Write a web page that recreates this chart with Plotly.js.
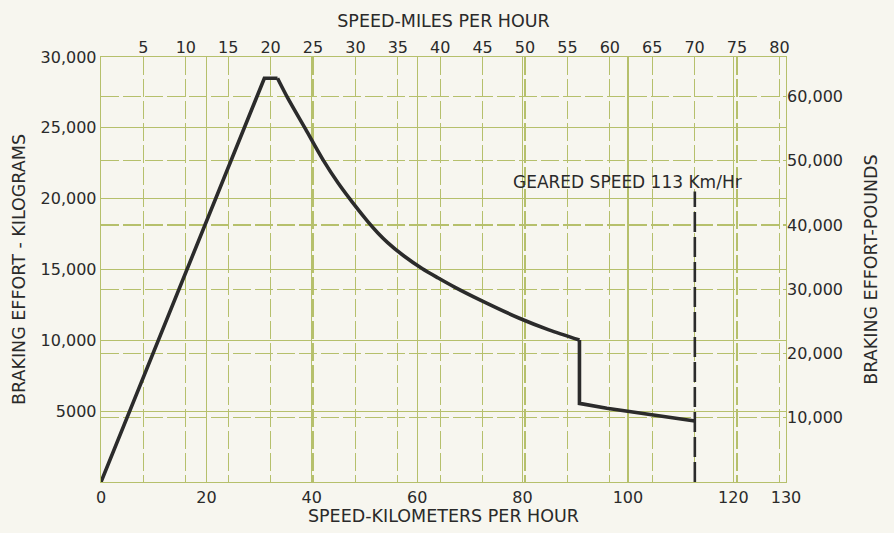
<!DOCTYPE html>
<html>
<head>
<meta charset="utf-8">
<script src="https://cdn.plot.ly/plotly-3.0.1.min.js"></script>
<style>
html,body{margin:0;padding:0;background:#f7f6ef;}
#chart{width:894px;height:533px;}
</style>
</head>
<body>
<div id="chart"></div>
<script>
// Braking effort curve (speed in km/h, effort in kg)
// Rising section and flat top
const riseKm = [0, 31.0, 33.5];
const riseKg = [0, 28500, 28500];
// Decaying section after the peak
const decayKm = [33.5, 35.4, 38.8, 42.2, 45.0, 47.8, 50.6, 52.5, 54.4, 57.5, 61.0, 64.0, 67.1, 72.0, 79.4, 85.0, 90.8];
const decayKg = [28500, 27130, 24920, 22700, 21100, 19700, 18400, 17600, 16900, 15950, 15050, 14400, 13760, 12840, 11560, 10740, 10020];
// Drop and low section up to geared speed
const lowKm = [90.8, 90.8, 96.0, 101.6, 107.0, 112.7];
const lowKg = [10020, 5550, 5200, 4880, 4580, 4300];

// Geared speed marker
const gearedKm = [112.7, 112.7];
const gearedKg = [0, 20500];
const gearedLabel = "GEARED SPEED 113 Km/Hr";

// Axis ticks
const kmTicks = [0, 20, 40, 60, 80, 100, 120, 130];
const kmTickText = ["0", "20", "40", "60", "80", "100", "120", "130"];
const mphTicks = [5, 10, 15, 20, 25, 30, 35, 40, 45, 50, 55, 60, 65, 70, 75, 80];
const kgTicks = [5000, 10000, 15000, 20000, 25000, 30000];
const kgTickText = ["5000", "10,000", "15,000", "20,000", "25,000", "30,000"];
const lbTicks = [10000, 20000, 30000, 40000, 50000, 60000];
const lbTickText = ["10,000", "20,000", "30,000", "40,000", "50,000", "60,000"];

const KM_PER_MILE = 1.609344;
const LB_PER_KG = 2.204623;
const kmMax = 130;
const kgMax = 30000;

const grid = '#b6c06c';
const ink = '#2a2a2a';
const fam = 'DejaVu Sans, sans-serif';
const tickFont = {family: fam, size: 16, color: ink};
const titleFont = {family: fam, size: 17.5, color: ink};
const curveLine = {color: '#2b2b2b', width: 3.6};

const traces = [
  {x: riseKm, y: riseKg, xaxis: 'x', yaxis: 'y', mode: 'lines',
   line: curveLine, hoverinfo: 'skip', showlegend: false},
  {x: decayKm, y: decayKg, xaxis: 'x', yaxis: 'y', mode: 'lines',
   line: Object.assign({shape: 'spline', smoothing: 0.8}, curveLine), hoverinfo: 'skip', showlegend: false},
  {x: lowKm, y: lowKg, xaxis: 'x', yaxis: 'y', mode: 'lines',
   line: curveLine, hoverinfo: 'skip', showlegend: false},
  {x: gearedKm, y: gearedKg, xaxis: 'x', yaxis: 'y', mode: 'lines',
   line: {color: '#2b2b2b', width: 2.6, dash: '20px,5px'}, hoverinfo: 'skip', showlegend: false},
  {x: [mphTicks[0]], y: [lbTicks[0]], xaxis: 'x2', yaxis: 'y2', mode: 'markers',
   marker: {opacity: 0}, hoverinfo: 'skip', showlegend: false}
];

const layout = {
  width: 894, height: 533,
  margin: {l: 101, r: 108, t: 57, b: 51},
  paper_bgcolor: '#f7f6ef', plot_bgcolor: '#f7f6ef',
  font: tickFont,
  showlegend: false,
  xaxis: {
    range: [0, kmMax], tickmode: 'array', tickvals: kmTicks, ticktext: kmTickText,
    showgrid: true, gridcolor: grid, gridwidth: 1.3, zeroline: false,
    showline: true, linecolor: grid, linewidth: 1.3, mirror: true,
    ticks: '', tickfont: tickFont,
    title: {text: 'SPEED-KILOMETERS PER HOUR', font: titleFont, standoff: 4}
  },
  xaxis2: {
    overlaying: 'x', side: 'top', anchor: 'y',
    range: [0, kmMax / KM_PER_MILE], tickmode: 'array', tickvals: mphTicks,
    showgrid: true, gridcolor: grid, gridwidth: 1.2, griddash: '18px,4px', zeroline: false,
    showline: false, ticks: '', tickfont: tickFont,
    title: {text: 'SPEED-MILES PER HOUR', font: titleFont, standoff: 5}
  },
  yaxis: {
    range: [0, kgMax], tickmode: 'array', tickvals: kgTicks, ticktext: kgTickText,
    showgrid: true, gridcolor: grid, gridwidth: 1.3, zeroline: false,
    showline: true, linecolor: grid, linewidth: 1.3, mirror: true,
    ticks: '', tickfont: tickFont,
    title: {text: 'BRAKING EFFORT - KILOGRAMS', font: titleFont, standoff: 10}
  },
  yaxis2: {
    overlaying: 'y', side: 'right', anchor: 'x',
    range: [0, kgMax * LB_PER_KG], tickmode: 'array', tickvals: lbTicks, ticktext: lbTickText,
    showgrid: true, gridcolor: grid, gridwidth: 1.2, griddash: '18px,4px', zeroline: false,
    showline: false, ticks: '', tickfont: tickFont,
    title: {text: 'BRAKING EFFORT-POUNDS', font: titleFont, standoff: 22}
  },
  annotations: [
    {x: 100, y: 21200, xref: 'x', yref: 'y', text: gearedLabel, showarrow: false,
     font: {family: fam, size: 17, color: ink}, xanchor: 'center', yanchor: 'middle'}
  ]
};

Plotly.newPlot('chart', traces, layout, {displayModeBar: false, staticPlot: true});
</script>
</body>
</html>
